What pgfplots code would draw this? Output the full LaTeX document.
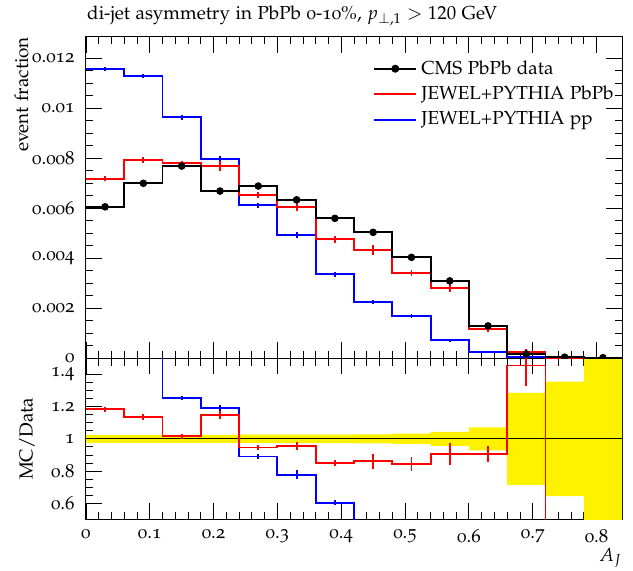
\documentclass[border=0pt]{standalone}
\usepackage[T1]{fontenc}
\usepackage[osf]{mathpazo}
\usepackage{pgfplots}
\usepackage{pgfplotstable}
\pgfplotsset{compat=1.18}
\usepgfplotslibrary{fillbetween}

\pgfplotstableread{
edge data red blue rred rblue bhi blo
0.00 0.00606 0.00718 0.01158 1.185 1.910 1.025 0.975
0.06 0.00700 0.00794 0.01128 1.134 1.610 1.025 0.975
0.12 0.00769 0.00781 0.00965 1.016 1.255 1.025 0.975
0.18 0.00669 0.00768 0.00798 1.148 1.193 1.025 0.975
0.24 0.00689 0.00652 0.00613 0.946 0.890 1.026 0.974
0.30 0.00634 0.00606 0.00493 0.956 0.778 1.026 0.974
0.36 0.00560 0.00476 0.00337 0.850 0.602 1.027 0.973
0.42 0.00504 0.00434 0.00224 0.861 0.444 1.028 0.972
0.48 0.00404 0.00341 0.00170 0.844 0.421 1.032 0.968
0.54 0.00310 0.00282 0.00073 0.908 0.235 1.044 0.956
0.60 0.00130 0.00117 0.00025 0.906 0.192 1.072 0.928
0.66 0.00018 0.00026 0.00005 1.456 0.250 1.286 0.714
0.72 0.00005 0.00001 0.00000 0.200 0.000 1.356 0.644
0.78 0.00003 0.00000 0.00000 0.000 0.000 2.000 0.000
0.84 0.00003 0.00000 0.00000 0.000 0.000 2.000 0.000
}\steps

\pgfplotstableread{
mid data derr red rerr blue berr rred rrerr rblue rberr
0.03 0.00606 0.00008 0.00718 0.00010 0.01158 0.00008 1.185 0.016 1.910 0.000
0.09 0.00700 0.00008 0.00794 0.00013 0.01128 0.00008 1.134 0.018 1.610 0.000
0.15 0.00769 0.00008 0.00781 0.00010 0.00965 0.00010 1.016 0.015 1.255 0.013
0.21 0.00669 0.00008 0.00768 0.00020 0.00798 0.00012 1.148 0.027 1.193 0.020
0.27 0.00689 0.00008 0.00652 0.00012 0.00613 0.00010 0.946 0.018 0.890 0.015
0.33 0.00634 0.00008 0.00606 0.00015 0.00493 0.00012 0.956 0.024 0.778 0.028
0.39 0.00560 0.00008 0.00476 0.00013 0.00337 0.00010 0.850 0.020 0.602 0.015
0.45 0.00504 0.00008 0.00434 0.00020 0.00224 0.00008 0.861 0.047 0.444 0.000
0.51 0.00404 0.00008 0.00341 0.00013 0.00170 0.00008 0.844 0.042 0.421 0.000
0.57 0.00310 0.00008 0.00282 0.00018 0.00073 0.00006 0.908 0.068 0.235 0.000
0.63 0.00130 0.00006 0.00117 0.00010 0.00025 0.00004 0.906 0.052 0.192 0.000
0.69 0.00018 0.00004 0.00026 0.00010 0.00005 0.00002 1.456 0.130 0.250 0.000
0.75 0.00005 0.00002 0.00001 0.00000 0.00000 0.00000 0.200 0.000 0.000 0.000
0.81 0.00003 0.00002 0.00000 0.00000 0.00000 0.00000 0.000 0.000 0.000 0.000
}\mids

\pgfplotsset{
  rivet/.style={
    width=10cm, scale only axis,
    xmin=0, xmax=0.84,
    tick align=inside,
    major tick length=8.5pt, minor tick length=4pt,
    xtick={0,0.1,...,0.81}, minor x tick num=4,
    minor y tick num=3,
    every tick/.style={black, line width=0.45pt},
    axis line style={line width=0.55pt},
    clip=true,
  },
  hist/.style={const plot, line width=1pt, forget plot},
  errs/.style={only marks, mark=*, mark size=0pt, forget plot, line width=1pt,
    error bars/y dir=both, error bars/y explicit, error bars/error mark=none,
    error bars/error bar style={line width=1pt}},
}

\begin{document}
\begin{tikzpicture}
\begin{axis}[rivet,
  name=top, at={(0,0)}, anchor=south west,
  height=6cm,
  ymin=0, ymax=0.01286,
  ytick={0,0.002,0.004,0.006,0.008,0.01,0.012},
  yticklabels={0,0.002,0.004,0.006,0.008,0.01,0.012},
  yticklabel style={xshift=-2.5pt},
  xticklabels={},
  scaled y ticks=false,
  clip marker paths=true,
  title={di-jet asymmetry in PbPb 0-10\%, $p_{\perp,1} > 120$ GeV},
  title style={inner sep=0pt, at={(axis description cs:0,1)}, anchor=base west, yshift=3pt, xshift=0.5pt},
  ylabel={event fraction},
  ylabel style={at={(axis description cs:-0.12,1)}, anchor=east, inner sep=0pt},
  legend style={at={(axis description cs:0.532,0.946)}, anchor=north west, draw=none, fill=none,
    row sep=0.5pt, inner sep=1pt,
    nodes={inner sep=2.2pt}},
  legend cell align=left,
  legend image code/.code={\draw[mark repeat=2,mark phase=2,#1] plot coordinates {(0cm,0cm) (0.39cm,0cm) (0.78cm,0cm)};},
]
\addlegendimage{black, line width=1pt, mark=*, mark size=1.6pt}
\addlegendentry{CMS PbPb data}
\addlegendimage{red, line width=1pt, no marks}
\addlegendentry{JEWEL+PYTHIA PbPb}
\addlegendimage{blue, line width=1pt, no marks}
\addlegendentry{JEWEL+PYTHIA pp}

\addplot[blue, hist] table[x=edge, y=blue] {\steps};
\addplot[blue, errs] table[x=mid, y=blue, y error=berr] {\mids};
\addplot[red, hist] table[x=edge, y=red] {\steps};
\addplot[red, errs] table[x=mid, y=red, y error=rerr] {\mids};
\addplot[black, hist] table[x=edge, y=data] {\steps};
\addplot[black, errs] table[x=mid, y=data, y error=derr] {\mids};
\addplot[black, only marks, mark=*, mark size=1.8pt, forget plot] table[x=mid, y=data] {\mids};
\end{axis}

\begin{axis}[rivet,
  name=bot, at={(0,0)}, anchor=north west,
  height=3cm,
  ymin=0.5, ymax=1.5,
  ytick={0.6,0.8,1,1.2,1.4},
  yticklabels={0.6,0.8,1,1.2,1.4},
  yticklabel style={xshift=-2.5pt},
  xticklabels={0,0.1,0.2,0.3,0.4,0.5,0.6,0.7,0.8},
  xticklabel style={yshift=-2pt},
  ylabel={MC/Data},
  ylabel style={at={(axis description cs:-0.11,0.5)}, anchor=center},
  xlabel={$A_J$},
  xlabel style={at={(axis description cs:1,0)}, anchor=east, inner sep=0pt, yshift=-20.5pt},
]
\addplot[name path=bhi, const plot, draw=none, forget plot] table[x=edge, y=bhi] {\steps};
\addplot[name path=blo, const plot, draw=none, forget plot] table[x=edge, y=blo] {\steps};
\addplot[yellow, draw=none, forget plot] fill between[of=bhi and blo];
\addplot[black, line width=0.55pt, forget plot] coordinates {(0,1) (0.84,1)};
\addplot[blue, hist] table[x=edge, y=rblue] {\steps};
\addplot[blue, errs] table[x=mid, y=rblue, y error=rberr] {\mids};
\addplot[red, hist] table[x=edge, y=rred] {\steps};
\addplot[red, errs] table[x=mid, y=rred, y error=rrerr] {\mids};
\end{axis}
\path (-45.6pt,190.2pt) rectangle (290.3pt,-112.3pt);
\end{tikzpicture}
\end{document}
